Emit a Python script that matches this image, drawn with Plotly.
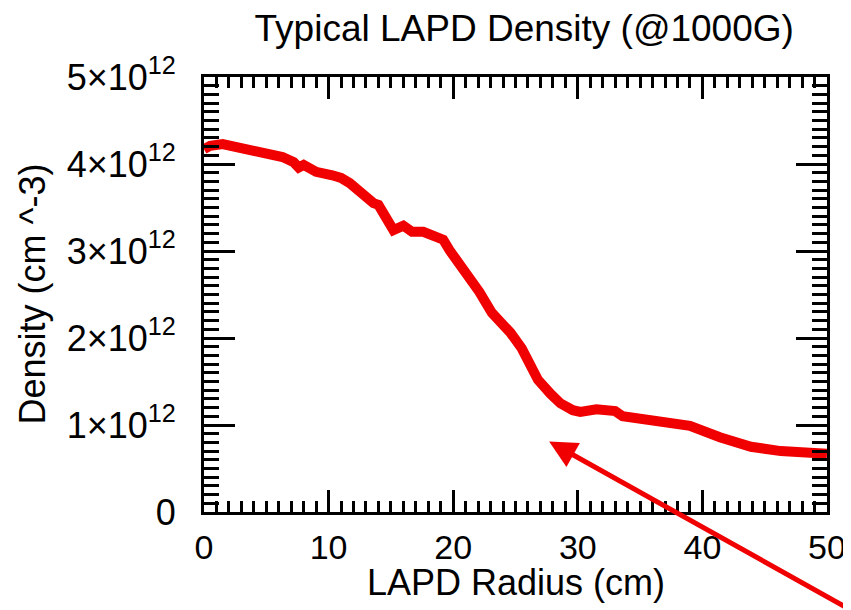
import plotly.graph_objects as go

# Data (radius in cm, density in cm^-3)
radius = [0, 0.5, 1.5, 2.9, 4.2, 5.3, 6.3, 7.2, 7.6, 8.0, 9.0, 10.3, 11.0, 11.7,
          12.7, 13.6, 14.0, 14.3, 14.7, 15.2, 16.0, 16.7, 17.6, 18.5, 19.2, 19.7,
          20.8, 22.1, 23.1, 23.3, 23.5, 24.6, 25.5, 26.2, 26.8, 27.8, 28.6, 29.6,
          30.2, 31.5, 33.0, 33.6, 35.0, 36.6, 39.0, 41.4, 43.9, 46.3, 48.7, 50.0]
density_e12 = [4.17, 4.21, 4.23, 4.19, 4.14, 4.10, 4.08, 4.02, 3.96, 3.99, 3.91, 3.87,
               3.84, 3.78, 3.65, 3.55, 3.53, 3.45, 3.34, 3.24, 3.29, 3.22, 3.22, 3.16,
               3.13, 3.01, 2.80, 2.53, 2.29, 2.26, 2.23, 2.06, 1.88, 1.69, 1.52, 1.36,
               1.25, 1.17, 1.15, 1.18, 1.16, 1.10, 1.07, 1.05, 0.99, 0.86, 0.75, 0.70,
               0.67, 0.67]
density = [v * 1e12 for v in density_e12]

x_ticks = [0, 10, 20, 30, 40, 50]
y_ticks = [0, 1e12, 2e12, 3e12, 4e12, 5e12]
y_tick_text = ["0", "1×10<sup>12</sup>", "2×10<sup>12</sup>", "3×10<sup>12</sup>",
               "4×10<sup>12</sup>", "5×10<sup>12</sup>"]

# Arrow annotation: tip in data coordinates, tail offset in pixels
arrow_tip = (27.7, 0.81e12)
arrow_tail_offset = (301, 168)

FONT = "Liberation Sans, Arial, Helvetica, sans-serif"

# The page body adds an 8px margin, so the figure is drawn 8px smaller.
W, H = 843, 602

fig = go.Figure()
fig.add_trace(go.Scatter(
    x=radius, y=density, mode="lines",
    line=dict(color="#f00000", width=10),
    showlegend=False, hoverinfo="skip",
))

fig.add_annotation(
    x=arrow_tip[0], y=arrow_tip[1], xref="x", yref="y",
    ax=arrow_tail_offset[0], ay=arrow_tail_offset[1], axref="pixel", ayref="pixel",
    text="", showarrow=True, arrowhead=2, arrowsize=1.1, arrowwidth=5,
    arrowcolor="#f00000",
)

# axis titles as annotations (placed as in the reference)
fig.add_annotation(
    text="LAPD Radius (cm)", xref="paper", yref="paper", x=0.5, y=0,
    xanchor="center", yanchor="middle", yshift=-70, showarrow=False,
    font=dict(size=36, family=FONT, color="black"),
)
fig.add_annotation(
    text="Density (cm ^-3)", xref="paper", yref="paper", x=0, y=0.5,
    xanchor="center", yanchor="middle", xshift=-172, textangle=-90, showarrow=False,
    font=dict(size=36, family=FONT, color="black"),
)

fig.update_layout(
    width=W, height=H,
    margin=dict(l=196, r=24, t=69, b=98),
    paper_bgcolor="white", plot_bgcolor="white",
    font=dict(family=FONT, color="black", size=34),
    title=dict(text="Typical LAPD Density (@1000G)", font=dict(size=37, family=FONT, color="black"),
               xref="paper", x=0.514, xanchor="center",
               yref="container", y=1 - 20 / H, yanchor="middle"),
)

fig.update_xaxes(
    range=[0, 50], tickvals=x_ticks, ticktext=[str(v) for v in x_ticks],
    showgrid=False, zeroline=False, automargin=False,
    showline=True, linewidth=3, linecolor="black", mirror="ticks",
    ticks="inside", ticklen=22, tickwidth=2.5, tickcolor="black",
    minor=dict(dtick=1, ticks="inside", ticklen=11, tickwidth=3, tickcolor="black", showgrid=False),
    tickfont=dict(size=34, family=FONT, color="black"),
    ticklabelstandoff=3,
)
fig.update_yaxes(
    range=[0, 5e12], tickvals=y_ticks, ticktext=y_tick_text,
    showgrid=False, zeroline=False, automargin=False,
    showline=True, linewidth=3, linecolor="black", mirror="ticks",
    ticks="inside", ticklen=31, tickwidth=2.5, tickcolor="black",
    minor=dict(dtick=1e11, ticks="inside", ticklen=15, tickwidth=3, tickcolor="black", showgrid=False),
    tickfont=dict(size=36, family=FONT, color="black"),
    ticklabelstandoff=18,
)

fig.write_html("out.html")
